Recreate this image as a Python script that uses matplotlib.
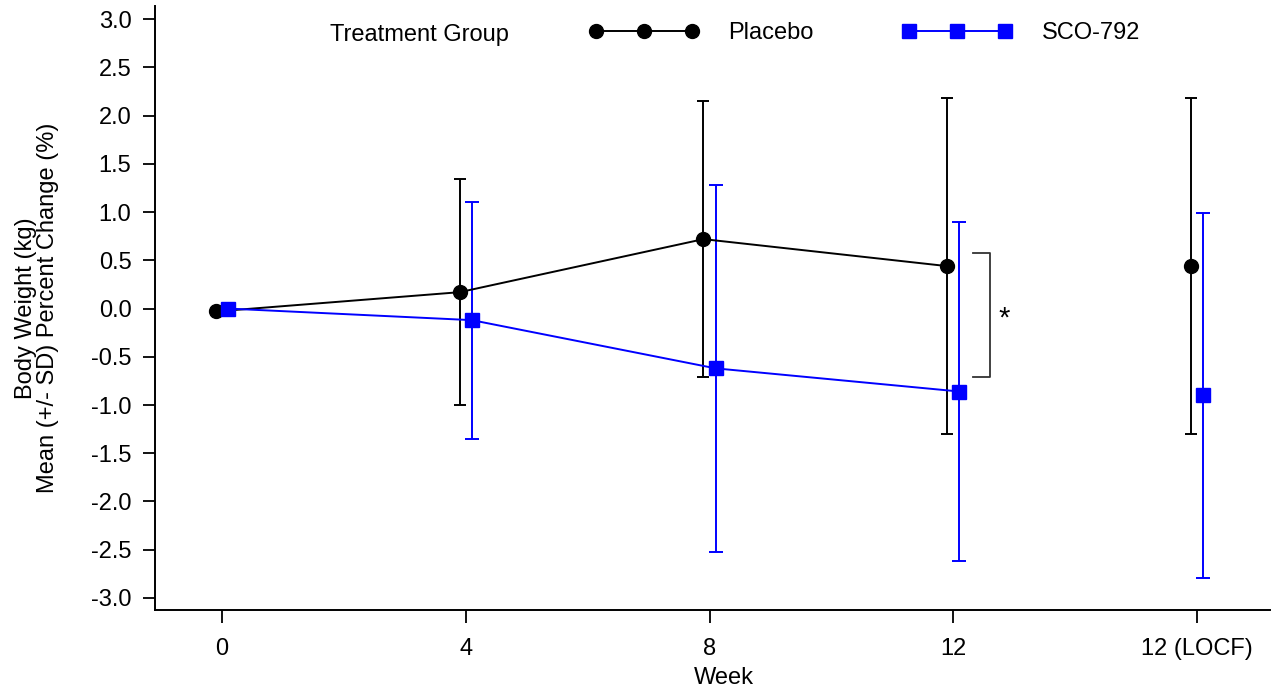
import matplotlib
matplotlib.use("Agg")
import matplotlib.pyplot as plt
from matplotlib.lines import Line2D
import numpy as np

plt.rcParams['font.family'] = ['Liberation Sans', 'DejaVu Sans']

# data
tick_labels = ["0", "4", "8", "12", "12 (LOCF)"]
x_pos = np.array([0, 4, 8, 12, 16])

placebo_mean = [-0.03, 0.17, 0.72, 0.44, 0.44]
placebo_sd = [0.0, 1.17, 1.43, 1.74, 1.74]

sco_mean = [0.0, -0.12, -0.62, -0.86, -0.90]
sco_sd = [0.0, 1.23, 1.90, 1.76, 1.89]

off = 0.1
fs = 17

fig = plt.figure(figsize=(12.74, 6.9), dpi=100)
ax = fig.add_axes([0.1217, 0.116, 0.8753, 0.875])

# placebo
ax.errorbar(x_pos - off, placebo_mean, yerr=placebo_sd, fmt='none',
            ecolor='black', elinewidth=1.4, capsize=4.6, capthick=1.4)
ax.plot(x_pos[:4] - off, placebo_mean[:4], color='black', lw=1.4, zorder=3)
ax.plot(x_pos - off, placebo_mean, 'o', color='black', ms=10, zorder=4)

# SCO-792
ax.errorbar(x_pos + off, sco_mean, yerr=sco_sd, fmt='none',
            ecolor='blue', elinewidth=1.4, capsize=5.2, capthick=1.4)
ax.plot(x_pos[:4] + off, sco_mean[:4], color='blue', lw=1.4, zorder=3)
ax.plot(x_pos + off, sco_mean, 's', color='blue', ms=9.5, zorder=4)

# significance bracket at week 12
bx0, bx1 = 12.32, 12.61
ax.plot([bx0, bx1, bx1, bx0], [0.575, 0.575, -0.71, -0.71], color='#333333', lw=1.3)
ax.text(12.84, -0.1, "*", fontsize=21, ha='center', va='center')

# legend
h1 = Line2D([], [], color='black', marker='o', ms=10, lw=1.4)
h2 = Line2D([], [], color='blue', marker='s', ms=9.5, lw=1.4)
ax.legend([h1, h2], ["Placebo", "SCO-792"], ncol=2, frameon=False,
          numpoints=3, handlelength=4.65, handletextpad=1.25, columnspacing=3.75,
          fontsize=fs, loc='center left', bbox_to_anchor=(0.370, 0.955))
ax.text(0.157, 0.952, "Treatment Group", transform=ax.transAxes,
        fontsize=fs, ha='left', va='center')

ax.set_xlim(-1.1, 17.2)
ax.set_ylim(-3.125, 3.135)
ax.set_xticks(x_pos)
ax.set_xticklabels(tick_labels)
yt = np.arange(-3.0, 3.01, 0.5)
ax.set_yticks(yt)
ax.set_yticklabels([f"{v:.1f}" for v in yt])
ax.tick_params(labelsize=fs, length=9, width=1.3, direction='out')
ax.tick_params(axis='y', pad=8)
ax.tick_params(axis='x', pad=11)
for s in ['top', 'right']:
    ax.spines[s].set_visible(False)
for s in ['left', 'bottom']:
    ax.spines[s].set_linewidth(1.4)

ax.set_xlabel("Week", fontsize=fs, labelpad=0)
ax.xaxis.set_label_coords(0.51, -0.095)
ax.set_ylabel("Body Weight (kg)\nMean (+/- SD) Percent Change (%)", fontsize=fs,
              linespacing=0.98)
ax.yaxis.set_label_coords(-0.086, 0.5)

fig.savefig("out.png", dpi=100)
